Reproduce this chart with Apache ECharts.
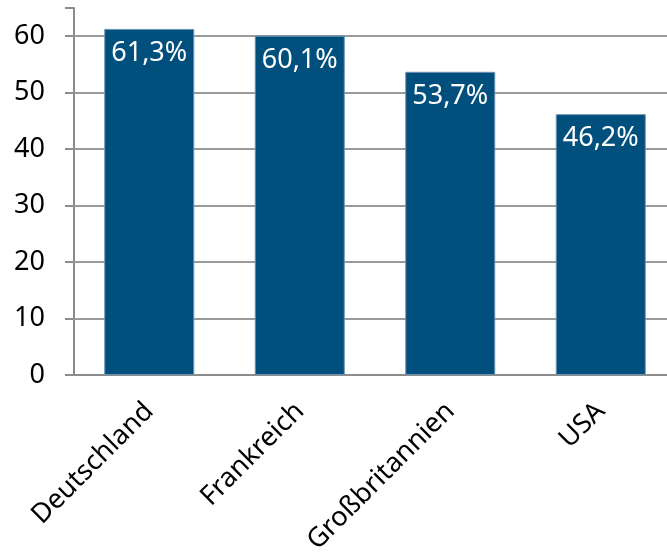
<!DOCTYPE html>
<html><head><meta charset="utf-8">
<script src="https://cdn.jsdelivr.net/npm/echarts@6/dist/echarts.min.js"></script>
<style>html,body{margin:0;padding:0;background:#fff}#c{width:667px;height:554px}</style>
</head><body><div id="c"></div>
<script>
const categories = ['Deutschland', 'Frankreich', 'Großbritannien', 'USA'];
const values = [61.3, 60.1, 53.7, 46.2];
const labels = ['61,3%', '60,1%', '53,7%', '46,2%'];
const yTicks = [0, 10, 20, 30, 40, 50, 60];
const gridValues = [10, 20, 30, 40, 50, 60];

const chart = echarts.init(document.getElementById('c'));
const FONT = 'Noto Sans';
chart.setOption({
  animation: false,
  grid: { left: 74, top: 8, width: 602, height: 367, outerBoundsMode: 'none', containLabel: false },
  xAxis: {
    type: 'category', data: categories,
    axisLine: { lineStyle: { color: '#8c8c8c', width: 2 } },
    axisTick: { show: false },
    axisLabel: { rotate: 45, margin: 32, color: '#000', fontSize: 27, fontFamily: FONT, interval: 0 }
  },
  yAxis: {
    type: 'value', min: 0, max: 65, interval: 10,
    axisLine: { show: true, lineStyle: { color: '#8c8c8c', width: 2 } },
    axisTick: { show: true, length: 9, lineStyle: { color: '#8c8c8c', width: 2 } },
    splitLine: { show: false },
    axisLabel: { margin: 29, color: '#000', fontSize: 27, fontFamily: FONT,
      formatter: v => yTicks.indexOf(v) >= 0 ? String(v) : '' }
  },
  series: [{
    type: 'line', data: [], z: 1, silent: true,
    markLine: {
      z: 1, symbol: 'none', silent: true, label: { show: false },
      lineStyle: { color: '#9a9a9a', width: 2, type: 'solid' },
      data: gridValues.map(v => ({ yAxis: v }))
    }
  }, {
    type: 'bar', barWidth: 90, z: 3,
    data: values,
    itemStyle: { color: '#004f7d', borderColor: '#6b93b3', borderWidth: 1 },
    label: { show: true, position: 'insideTop', distance: 11, color: '#fff', fontSize: 27, fontFamily: FONT,
      formatter: p => labels[p.dataIndex] }
  }]
});
</script></body></html>
